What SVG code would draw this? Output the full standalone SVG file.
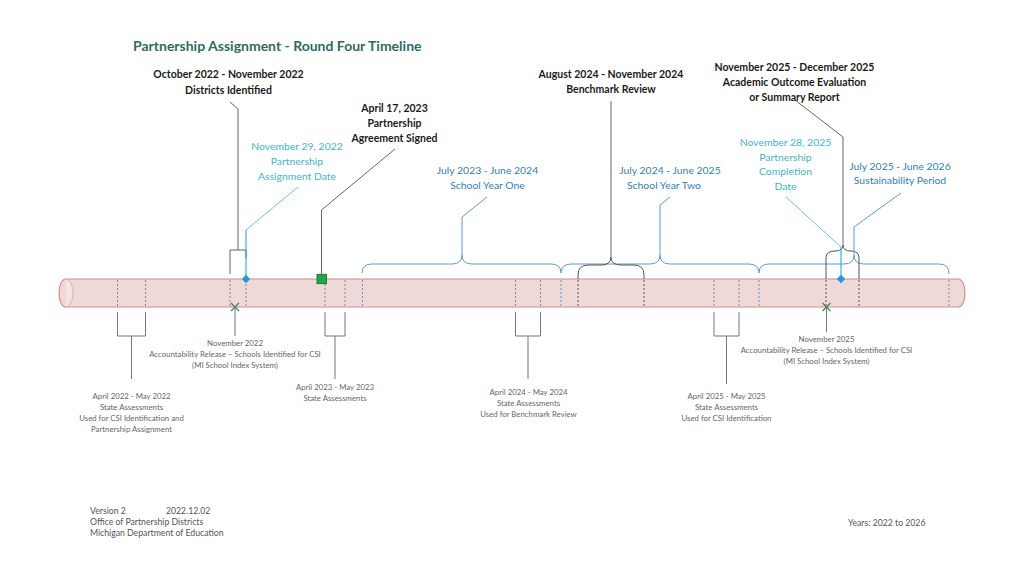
<svg xmlns="http://www.w3.org/2000/svg" width="1024" height="576" viewBox="0 0 1024 576">
<style>
text{font-family:Lato,"Liberation Sans",sans-serif}
.title{font-size:14px;font-weight:bold;fill:#2E6B5F}
.blk{font-size:10.5px;font-weight:bold;fill:#1a1a1a;text-anchor:middle}
.teal{font-size:10.4px;fill:#45B3C6;text-anchor:middle}
.blue{font-size:10.4px;fill:#2F80B8;text-anchor:middle}
.sm{font-size:7.8px;fill:#666;text-anchor:middle}
.ft{font-size:8.7px;fill:#555}
.tick{stroke:#8a8a8a;stroke-width:1;stroke-dasharray:2,2;fill:none}
.tickb{stroke:#5B9BD5;stroke-width:1;stroke-dasharray:2,2;fill:none}
.tickd{stroke:#555;stroke-width:1;stroke-dasharray:2,2;fill:none}
.lead{stroke:#666;stroke-width:1;fill:none}
.brk{stroke:#777;stroke-width:1;fill:none}
.brace{stroke:#5B9BD5;stroke-width:1;fill:none}
.braced{stroke:#555;stroke-width:1;fill:none}
.bl{stroke:#1E9BE0;stroke-width:1;fill:none}
.tl{stroke:#6CC3CC;stroke-width:1;fill:none}
.xm{stroke:#4d7a66;stroke-width:1.2;fill:none}
</style>
<rect width="1024" height="576" fill="#fff"/>
<text class="title" x="133" y="51">Partnership Assignment - Round Four Timeline</text>

<g id="bar">
<path d="M66,279 L958,279 A7,14 0 0 1 958,307 L66,307 A7,14 0 0 1 66,279 Z" fill="#EED8D8" stroke="#D88A84" stroke-width="1.2"/>
<path d="M66,279 A7,14 0 0 1 66,307" fill="#F4E3E3" stroke="#E3B0AC" stroke-width="1"/>
</g>

<g id="ticks">
<path class="tick" d="M117.5,280V307M145.5,280V307M230,280V307M325,280V307M345,280V307M515.5,280V307M540.5,280V307M714,280V307M739,280V307"/>
<path class="tick" stroke="#7a8fa8" d="M246,280V307"/>
<path class="tickb" d="M362.5,280V307M561,280V307M759,280V307M949,280V307"/>
<path class="tickd" d="M578,280V307M644,280V307M826,280V307M859,280V307"/>
</g>

<g id="connectors">
<path class="brace" d="M362,273 Q362,264 372,264 L452,264 Q462,264 462,255 Q462,264 472,264 L551,264 Q561,264 561,273"/>
<path class="brace" d="M561,273 Q561,264 571,264 L650,264 Q660,264 660,255 Q660,264 670,264 L749,264 Q759,264 759,273"/>
<path class="brace" d="M759,273 Q759,264 769,264 L844,264 Q854,264 854,255 Q854,264 864,264 L939,264 Q949,264 949,274"/>
<path class="braced" d="M578,279 L578,275 Q578,265 588,265 L601,265 Q611,265 611,257 Q611,265 621,265 L634,265 Q644,265 644,275 L644,279"/>
<path class="braced" d="M826,279 L826,258 Q826,251 835,251 Q843,251 843,245 Q843,251 851,251 Q859,251 859,258 L859,279"/>
<path class="lead" d="M230,102 L238,109 L238,250"/>
<path class="lead" d="M230,274 L230,250 L246,250 L246,258"/>
<path class="bl" d="M246,279 L246,230"/>
<path class="tl" d="M246,230 L298,187"/>
<path class="lead" d="M321.5,274 L321.5,210 L395,149"/>
<path class="lead" d="M611,257 L611,101"/>
<path class="lead" d="M843,245 L843,137 L795,100"/>
<path class="bl" d="M841,279 L841,247"/>
<path class="tl" d="M841,247 L786,197"/>
<path class="brace" stroke="#7FA7C8" d="M854,255 L854,227 L901,193"/>
<path class="brace" d="M462,255 L462,217 L487,197"/>
<path class="brace" d="M660,255 L660,205 L670,197"/>
<path class="brk" d="M117.5,312 V336 H145.5 V312 M131.5,336 V379"/>
<path class="brk" d="M325,312 V336 H345 V312 M335,336 V379"/>
<path class="brk" d="M515.5,312 V336 H540.5 V312 M528,336 V379"/>
<path class="brk" d="M714,312 V336 H739 V312 M726.5,336 V384"/>
<path class="brk" d="M235,308 V336"/>
<path class="brk" d="M826.5,308 V332"/>
</g>

<g id="markers">
<path d="M246,274.8 L250.2,279 L246,283.2 L241.8,279 Z" fill="#1E9BE0"/>
<path d="M841,274.8 L845.2,279 L841,283.2 L836.8,279 Z" fill="#1E9BE0"/>
<rect x="317" y="274.3" width="9.4" height="9.4" fill="#1DA84A" stroke="#0B6B2B" stroke-width="0.8"/>
<path class="xm" d="M231,303 L239,311 M239,303 L231,311"/>
<path class="xm" d="M822.5,303 L830.5,311 M830.5,303 L822.5,311"/>
</g>

<g id="n-districts">
<text class="blk" x="228.5" y="78">October 2022 - November 2022</text>
<text class="blk" x="228.5" y="93.5">Districts Identified</text>
</g>
<g id="n-agreement">
<text class="blk" x="394.5" y="112">April 17, 2023</text>
<text class="blk" x="394.5" y="127">Partnership</text>
<text class="blk" x="394.5" y="141.5">Agreement Signed</text>
</g>
<g id="n-benchmark">
<text class="blk" x="611" y="78">August 2024 - November 2024</text>
<text class="blk" x="611" y="93">Benchmark Review</text>
</g>
<g id="n-academic">
<text class="blk" x="794.5" y="71">November 2025 - December 2025</text>
<text class="blk" x="794.5" y="86">Academic Outcome Evaluation</text>
<text class="blk" x="794.5" y="100.5">or Summary Report</text>
</g>
<g id="n-assignment-date">
<text class="teal" x="297" y="149.5">November 29, 2022</text>
<text class="teal" x="297" y="165">Partnership</text>
<text class="teal" x="297" y="179.5">Assignment Date</text>
</g>
<g id="n-year-one">
<text class="blue" x="487.5" y="173.5">July 2023 - June 2024</text>
<text class="blue" x="487.5" y="189">School Year One</text>
</g>
<g id="n-year-two">
<text class="blue" x="670" y="173.5">July 2024 - June 2025</text>
<text class="blue" x="664" y="189">School Year Two</text>
</g>
<g id="n-completion">
<text class="teal" x="785.5" y="145.5">November 28, 2025</text>
<text class="teal" x="785.5" y="161">Partnership</text>
<text class="teal" x="785.5" y="175">Completion</text>
<text class="teal" x="785.5" y="189.5">Date</text>
</g>
<g id="n-sustain">
<text class="blue" x="900" y="169.5">July 2025 - June 2026</text>
<text class="blue" x="900" y="183.5">Sustainability Period</text>
</g>

<g id="n-assess-2022">
<text class="sm" x="131.5" y="399">April 2022 - May 2022</text>
<text class="sm" x="131.5" y="410">State Assessments</text>
<text class="sm" x="131.5" y="421">Used for CSI Identification and</text>
<text class="sm" x="131.5" y="432">Partnership Assignment</text>
</g>
<g id="n-release-2022">
<text class="sm" x="235" y="346">November 2022</text>
<text class="sm" x="235" y="357">Accountability Release – Schools Identified for CSI</text>
<text class="sm" x="235" y="368">(MI School Index System)</text>
</g>
<g id="n-assess-2023">
<text class="sm" x="335" y="389.5">April 2023 - May 2023</text>
<text class="sm" x="335" y="400.5">State Assessments</text>
</g>
<g id="n-assess-2024">
<text class="sm" x="528.5" y="394.5">April 2024 - May 2024</text>
<text class="sm" x="528.5" y="405.5">State Assessments</text>
<text class="sm" x="528.5" y="416.5">Used for Benchmark Review</text>
</g>
<g id="n-assess-2025">
<text class="sm" x="726.5" y="398.5">April 2025 - May 2025</text>
<text class="sm" x="726.5" y="409.5">State Assessments</text>
<text class="sm" x="726.5" y="420.5">Used for CSI Identification</text>
</g>
<g id="n-release-2025">
<text class="sm" x="826.5" y="341.5">November 2025</text>
<text class="sm" x="826.5" y="352.5">Accountability Release – Schools Identified for CSI</text>
<text class="sm" x="826.5" y="363.5">(MI School Index System)</text>
</g>

<g id="footer">
<text class="ft" x="90" y="513.5">Version 2</text>
<text class="ft" x="166" y="513.5">2022.12.02</text>
<text class="ft" x="90" y="525">Office of Partnership Districts</text>
<text class="ft" x="90" y="536">Michigan Department of Education</text>
<text class="ft" x="848" y="526">Years: 2022 to 2026</text>
</g>
</svg>
